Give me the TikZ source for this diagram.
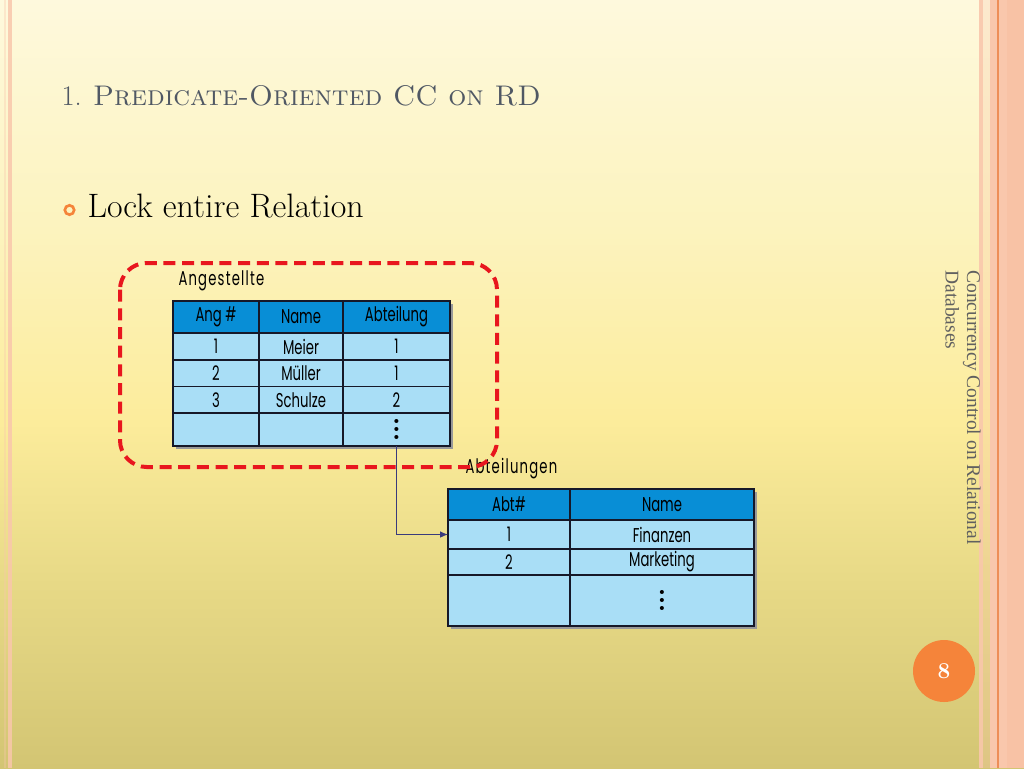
\documentclass[tikz,border=0pt]{standalone}
\usepackage{fontspec}
\newfontfamily\tabfont[FakeStretch=0.66]{Poppins}
\newfontfamily\labfont[FakeStretch=0.66,LetterSpace=6]{Poppins}
\newfontfamily\sidefont{Liberation Serif}
\usetikzlibrary{arrows.meta,positioning}

\definecolor{bgtop}{RGB}{254,249,221}
\definecolor{bghigh}{RGB}{252,243,190}
\definecolor{bgmid}{RGB}{252,236,155}
\definecolor{bglow}{RGB}{232,218,135}
\definecolor{bgbot}{RGB}{211,197,115}
\definecolor{titlegray}{RGB}{80,88,100}
\definecolor{sidegray}{RGB}{96,96,96}
\definecolor{pageorange}{RGB}{245,132,58}
\definecolor{lockred}{RGB}{232,22,30}
\definecolor{hdblue}{RGB}{8,142,214}
\definecolor{cellblue}{RGB}{169,222,246}
\definecolor{tabline}{RGB}{22,24,40}
\definecolor{linknavy}{RGB}{58,58,124}
\definecolor{stripepink}{RGB}{249,199,172}
\definecolor{stripeorange}{RGB}{238,142,88}

\pgfdeclareverticalshading{slidebg}{100bp}{color(0bp)=(bgbot); color(25bp)=(bgbot); color(37.5bp)=(bglow); color(47.5bp)=(bgmid); color(60bp)=(bghigh); color(75bp)=(bgtop); color(100bp)=(bgtop)}

\newcommand{\moredots}{\vbox{\normalfont\bfseries\fontsize{21}{6}\selectfont\baselineskip6pt\lineskiplimit0pt\hbox{.}\hbox{.}\hbox{.}}}

\tikzset{every picture/.style={line width=0.75pt}}
\tikzset{
  hdcell/.style={draw=tabline, fill=hdblue, line width=1.2pt, inner sep=0pt, outer sep=0pt, anchor=north west, font=\tabfont\fontsize{15}{16}\selectfont},
  cell/.style={draw=tabline, fill=cellblue, line width=1.2pt, inner sep=0pt, outer sep=0pt, anchor=north west, font=\tabfont\fontsize{15}{16}\selectfont},
  tablabel/.style={anchor=west, inner sep=0pt, font=\labfont\fontsize{15}{16}\selectfont},
  tabshadow/.style={fill=black!40, draw=none},
  lockbox/.style={draw=lockred, line width=3pt, dash pattern=on 9pt off 5pt, rounded corners=20pt},
  link/.style={draw=linknavy, line width=0.8pt, -{Latex[length=6pt,width=5pt]}}
}

\begin{document}
\begin{tikzpicture}[x=0.75pt,y=0.75pt,yscale=-1,xscale=1]
    \useasboundingbox (0,0) rectangle (1024,768);

    %Background
    \shade[shading=slidebg] (0,0) rectangle (1024,768);
    %Stripes left
    \fill[stripepink, opacity=0.35] (4,0) rectangle (5.5,768);
    \fill[stripepink, opacity=0.85] (7.5,0) rectangle (12,768);
    %Stripes right
    \fill[stripepink, opacity=0.9] (979,0) rectangle (983,768);
    \fill[stripepink, opacity=0.3] (983,0) rectangle (990,768);
    \fill[stripepink] (990,0) rectangle (1024,768);
    \fill[stripeorange] (997.2,0) rectangle (998.8,768);
    \fill[stripeorange, opacity=0.08] (1007,0) rectangle (1024,768);

    %Title
    \node[anchor=base west, inner sep=0pt, text=titlegray, font=\fontsize{21.3}{26}\selectfont] (title) at (61,105) {1. \textsc{Predicate-Oriented CC on RD}};
    %Bullet
    \node[circle, draw=pageorange, line width=2pt, minimum size=7pt, inner sep=0pt] (dot) at (69.5,210) {};
    \node[anchor=base west, inner sep=0pt, font=\fontsize{25.4}{30}\selectfont] (bullet) at (87,217) {Lock entire Relation};

    %Table shadows
    \fill[tabshadow] (176,304) rectangle (453,449);
    \fill[tabshadow] (451,492) rectangle (757,629);

    %Table: Angestellte
    \node[tablabel] (angname) at (178,281) {Angestellte};
    \node[hdcell, minimum width=64.5pt, minimum height=24pt] (ang-01) at (173,301) {Ang \#};
    \node[hdcell, minimum width=63pt, minimum height=24pt] (ang-02) at (259,301) {Name};
    \node[hdcell, minimum width=80.25pt, minimum height=24pt] (ang-03) at (343,301) {Abteilung};
    \node[cell, minimum width=64.5pt, minimum height=20.25pt] (ang-11) at (173,333) {1};
    \node[cell, minimum width=63pt, minimum height=20.25pt] (ang-12) at (259,333) {Meier};
    \node[cell, minimum width=80.25pt, minimum height=20.25pt] (ang-13) at (343,333) {1};
    \node[cell, minimum width=64.5pt, minimum height=19.9pt] (ang-21) at (173,360) {2};
    \node[cell, minimum width=63pt, minimum height=19.9pt] (ang-22) at (259,360) {Müller};
    \node[cell, minimum width=80.25pt, minimum height=19.9pt] (ang-23) at (343,360) {1};
    \node[cell, minimum width=64.5pt, minimum height=19.9pt] (ang-31) at (173,386.5) {3};
    \node[cell, minimum width=63pt, minimum height=19.9pt] (ang-32) at (259,386.5) {Schulze};
    \node[cell, minimum width=80.25pt, minimum height=19.9pt] (ang-33) at (343,386.5) {2};
    \node[cell, minimum width=64.5pt, minimum height=24.75pt] (ang-41) at (173,413) {};
    \node[cell, minimum width=63pt, minimum height=24.75pt] (ang-42) at (259,413) {};
    \node[cell, minimum width=80.25pt, minimum height=24.75pt] (ang-43) at (343,413) {\moredots};

    %Table: Abteilungen
    \node[tablabel] (abtname) at (465,469) {Abteilungen};
    \node[hdcell, minimum width=91.5pt, minimum height=23.25pt] (abt-01) at (448,489) {Abt\#};
    \node[hdcell, minimum width=138pt, minimum height=23.25pt] (abt-02) at (570,489) {Name};
    \node[cell, minimum width=91.5pt, minimum height=21.75pt] (abt-11) at (448,520) {1};
    \node[cell, minimum width=138pt, minimum height=21.75pt] (abt-12) at (570,520) {Finanzen};
    \node[cell, minimum width=91.5pt, minimum height=19.5pt] (abt-21) at (448,549) {2};
    \node[cell, minimum width=138pt, minimum height=19.5pt] (abt-22) at (570,549) {Marketing};
    \node[cell, minimum width=91.5pt, minimum height=38.25pt] (abt-31) at (448,575) {};
    \node[cell, minimum width=138pt, minimum height=38.25pt] (abt-32) at (570,575) {\moredots};

    %Lock frame
    \draw[lockbox] (120,263) rectangle (497,467);

    %Foreign key link
    \draw[link] (ang-43.south) |- (abt-11.west);

    %Side text
    \node[rotate=-90, anchor=north west, align=left, inner sep=0pt, text=sidegray, font=\sidefont\fontsize{14.6}{16}\selectfont] (side) at (981,270) {Concurrency Control on Relational\\Databases};
    %Page number
    \node[circle, fill=pageorange, minimum size=46.5pt, inner sep=0pt, text=white, font=\bfseries\fontsize{17}{18}\selectfont] (pagenum) at (944,671) {8};

\end{tikzpicture}
\end{document}
